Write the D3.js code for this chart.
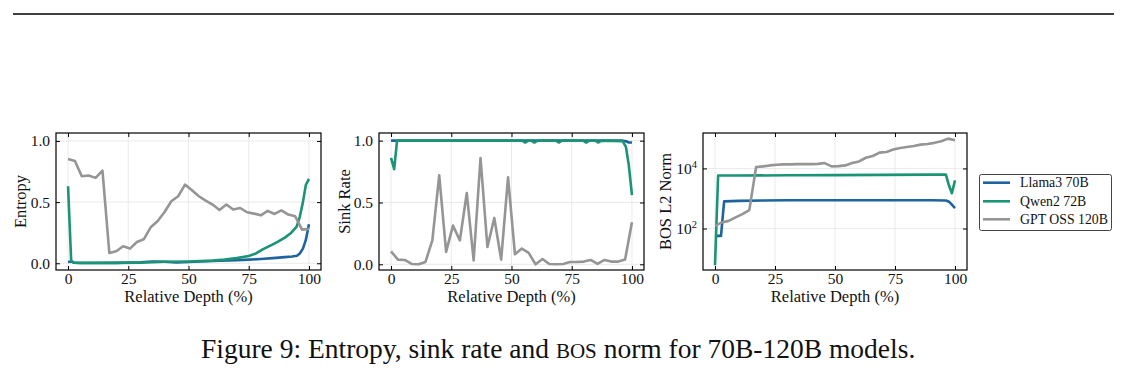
<!DOCTYPE html>
<html>
<head>
<meta charset="utf-8">
<script src="https://cdn.jsdelivr.net/npm/d3@7"></script>
<style>
  body { margin: 0; background: #fff; }
  svg { display: block; }
  text { font-family: "Liberation Serif", "Times New Roman", serif; fill: #111; }
</style>
</head>
<body>
<script>
// series names and colours
var seriesNames = ["Llama3 70B", "Qwen2 72B", "GPT OSS 120B"];
var seriesColors = ["#1d64a0", "#1b9475", "#959595"];

// GPT OSS 120B: 36 layers
var gptDepth = [0, 2.86, 5.71, 8.57, 11.43, 14.29, 17.14, 20, 22.86, 25.71, 28.57, 31.43,
  34.29, 37.14, 40, 42.86, 45.71, 48.57, 51.43, 54.29, 57.14, 60, 62.86, 65.71,
  68.57, 71.43, 74.29, 77.14, 80, 82.86, 85.71, 88.57, 91.43, 94.29, 97.14, 100];

// entropy
var llamaEntropyDepth = [0, 1.3, 2.5, 5, 10, 20, 30, 35, 40, 45, 50, 60, 70, 75, 80, 85, 90, 93, 95, 96.2, 97.5, 98.7, 100];
var llamaEntropy = [0.01, 0.014, 0.004, 0.002, 0.002, 0.003, 0.008, 0.015, 0.012, 0.006, 0.01, 0.018, 0.025, 0.03, 0.035, 0.042, 0.05, 0.055, 0.062, 0.08, 0.12, 0.19, 0.32];
var qwenEntropyDepth = [0, 1.3, 2.5, 5, 10, 20, 30, 40, 50, 60, 65, 70, 75, 78, 81, 84, 87, 90, 92.4, 94.9, 96.2, 97.5, 98.7, 100];
var qwenEntropy = [0.63, 0.02, 0.005, 0.003, 0.003, 0.003, 0.005, 0.012, 0.015, 0.022, 0.03, 0.042, 0.06, 0.08, 0.115, 0.145, 0.175, 0.21, 0.245, 0.3, 0.38, 0.5, 0.64, 0.69];
var gptEntropy = [0.853, 0.836, 0.711, 0.717, 0.698, 0.757, 0.084, 0.098, 0.139, 0.12, 0.174, 0.196,
  0.294, 0.343, 0.417, 0.507, 0.548, 0.643, 0.597, 0.548, 0.512, 0.48, 0.436, 0.48,
  0.439, 0.452, 0.417, 0.406, 0.392, 0.428, 0.403, 0.433, 0.398, 0.384, 0.275, 0.281];

// sink rate
var llamaSinkDepth = [0, 25, 50, 75, 96.2, 97.5, 98.7, 100];
var llamaSink = [1, 1, 1, 1, 1, 0.995, 0.985, 0.985];
var qwenSinkDepth = [0, 1.3, 2.5, 30, 54.4, 55.7, 57, 58.2, 59.5, 60.8, 68.4, 69.6, 70.9, 79.7, 81, 82.3, 84.8, 86.1, 87.3, 96.2, 97.5, 98.7, 100];
var qwenSink = [0.86, 0.77, 1, 1, 1, 0.985, 1, 1, 0.985, 1, 1, 0.985, 1, 1, 0.985, 1, 1, 0.985, 1, 0.995, 0.95, 0.8, 0.56];
var gptSink = [0.105, 0.038, 0.035, 0.003, 0.0, 0.019, 0.194, 0.72, 0.10, 0.313, 0.194, 0.577,
  0.032, 0.86, 0.14, 0.375, 0.038, 0.703, 0.081, 0.127, 0.092, 0.0, 0.043, 0.003,
  0.0, 0.003, 0.019, 0.019, 0.022, 0.035, 0.003, 0.035, 0.022, 0.022, 0.038, 0.34];

// BOS L2 norm
var llamaBosDepth = [0, 1.3, 2.5, 3.8, 10, 20, 30, 50, 70, 90, 96.2, 97.5, 98.7, 100];
var llamaBos = [57, 57, 57, 800, 830, 860, 870, 870, 870, 870, 860, 780, 620, 480];
var qwenBosDepth = [0, 1.3, 10, 30, 50, 70, 90, 96.2, 97.5, 98.7, 100];
var qwenBos = [6, 5800, 5800, 5900, 6000, 6100, 6200, 6200, 2700, 1500, 4000];
var gptBos = [123, 160, 180, 235, 300, 410, 11100, 11700, 12600, 13300, 13600, 13600,
  13900, 13900, 13900, 14200, 15100, 11700, 11900, 12600, 15100, 17100, 22700, 25900,
  33500, 35400, 42400, 48000, 52000, 56000, 62000, 65000, 71000, 80000, 98000, 87000];

var xTicks = [0, 25, 50, 75, 100];

var FIG = {
  init: function() {
    this.svg = d3.select("body")
      .append("svg")
      .attr("width", 1129)
      .attr("height", 371);

    // rule at the top of the page
    this.svg.append("line")
      .attr("x1", 13).attr("x2", 1114)
      .attr("y1", 14).attr("y2", 14)
      .attr("stroke", "#000")
      .attr("stroke-width", 1.6);

    this.buildPanel({
      left: 56, right: 321, yLabel: "Entropy", yLabelX: 21,
      y: d3.scaleLinear().domain([-0.055, 1.065]),
      yTicks: [0, 0.5, 1],
      series: [
        [llamaEntropyDepth, llamaEntropy],
        [qwenEntropyDepth, qwenEntropy],
        [gptDepth, gptEntropy]
      ]
    });
    this.buildPanel({
      left: 379, right: 644, yLabel: "Sink Rate", yLabelX: 345,
      y: d3.scaleLinear().domain([-0.046, 1.062]),
      yTicks: [0, 0.5, 1],
      series: [
        [llamaSinkDepth, llamaSink],
        [qwenSinkDepth, qwenSink],
        [gptDepth, gptSink]
      ]
    });
    this.buildPanel({
      left: 703, right: 967, yLabel: "BOS L2 Norm", yLabelX: 666,
      y: d3.scaleLog().domain([4.17, 151000]),
      yTicks: [100, 10000],
      log: true,
      series: [
        [llamaBosDepth, llamaBos],
        [qwenBosDepth, qwenBos],
        [gptDepth, gptBos]
      ]
    });

    this.buildLegend();
    this.buildCaption();
  },

  buildPanel: function(p) {
    var top = 133;
    var bottom = 270;
    var svg = this.svg;

    var x = d3.scaleLinear().domain([-5, 105]).range([p.left, p.right]);
    var y = p.y.range([bottom, top]);

    var g = svg.append("g");

    // grid
    g.selectAll(".gx")
      .data(xTicks)
      .enter()
      .append("line")
      .attr("x1", function(d) { return x(d); })
      .attr("x2", function(d) { return x(d); })
      .attr("y1", top).attr("y2", bottom)
      .attr("stroke", "#e4e4e4")
      .attr("stroke-width", 0.8);
    g.selectAll(".gy")
      .data(p.yTicks)
      .enter()
      .append("line")
      .attr("x1", p.left).attr("x2", p.right)
      .attr("y1", function(d) { return y(d); })
      .attr("y2", function(d) { return y(d); })
      .attr("stroke", "#e4e4e4")
      .attr("stroke-width", 0.8);

    // lines
    var clipId = "clip" + p.left;
    svg.append("clipPath").attr("id", clipId)
      .append("rect")
      .attr("x", p.left).attr("y", top)
      .attr("width", p.right - p.left).attr("height", bottom - top);

    var line = d3.line()
      .x(function(d) { return x(d[0]); })
      .y(function(d) { return y(d[1]); });

    g.append("g")
      .attr("clip-path", "url(#" + clipId + ")")
      .selectAll("path")
      .data(p.series)
      .enter()
      .append("path")
      .attr("d", function(s) { return line(d3.zip(s[0], s[1])); })
      .attr("fill", "none")
      .attr("stroke", function(s, i) { return seriesColors[i]; })
      .attr("stroke-width", 2.6)
      .attr("stroke-linejoin", "round");

    // axes, ticks pointing inward on every side
    var fmt = p.log ? function() { return ""; } : d3.format(".1f");

    var bottomAxis = g.append("g")
      .attr("transform", "translate(0," + bottom + ")")
      .call(d3.axisBottom(x).tickValues(xTicks).tickSize(-4).tickPadding(3).tickFormat(d3.format("d")));
    var topAxis = g.append("g")
      .attr("transform", "translate(0," + top + ")")
      .call(d3.axisTop(x).tickValues(xTicks).tickSize(-4).tickFormat(""));
    var leftAxis = g.append("g")
      .attr("transform", "translate(" + p.left + ",0)")
      .call(d3.axisLeft(y).tickValues(p.yTicks).tickSize(-4).tickPadding(6).tickFormat(fmt));
    var rightAxis = g.append("g")
      .attr("transform", "translate(" + p.right + ",0)")
      .call(d3.axisRight(y).tickValues(p.yTicks).tickSize(-4).tickFormat(""));

    [bottomAxis, topAxis, leftAxis, rightAxis].forEach(function(a) {
      a.select(".domain").remove();
      a.selectAll(".tick line").attr("stroke", "#000").attr("stroke-width", 1);
      a.selectAll("text")
        .attr("font-family", "Liberation Serif, serif")
        .attr("font-size", 15.5)
        .attr("fill", "#111");
    });

    if (p.log) {
      leftAxis.selectAll(".tick text")
        .each(function(d) {
          var t = d3.select(this);
          t.text("");
          t.append("tspan").text("10");
          t.append("tspan")
            .attr("dy", -6)
            .attr("font-size", 10.5)
            .text(Math.round(Math.log10(d)));
        });
    }

    // frame
    g.append("rect")
      .attr("x", p.left).attr("y", top)
      .attr("width", p.right - p.left).attr("height", bottom - top)
      .attr("fill", "none")
      .attr("stroke", "#000")
      .attr("stroke-width", 1.2);

    // labels
    g.append("text")
      .text("Relative Depth (%)")
      .attr("x", (p.left + p.right) / 2)
      .attr("y", 302)
      .attr("font-size", 16.5)
      .attr("text-anchor", "middle");

    g.append("text")
      .text(p.yLabel)
      .attr("transform", "translate(" + (p.yLabelX + 5) + "," + (top + bottom) / 2 + ") rotate(-90)")
      .attr("font-size", 16.5)
      .attr("text-anchor", "middle");
  },

  buildLegend: function() {
    var g = this.svg.append("g");
    var rows = [182.7, 201.3, 219.3];

    g.append("rect")
      .attr("x", 979.5).attr("y", 174.5)
      .attr("width", 132).attr("height", 56)
      .attr("rx", 2)
      .attr("fill", "#fff")
      .attr("stroke", "#444")
      .attr("stroke-width", 1);

    g.selectAll("line")
      .data(seriesNames)
      .enter()
      .append("line")
      .attr("x1", 983).attr("x2", 1010)
      .attr("y1", function(d, i) { return rows[i]; })
      .attr("y2", function(d, i) { return rows[i]; })
      .attr("stroke", function(d, i) { return seriesColors[i]; })
      .attr("stroke-width", 2.6);

    g.selectAll("text")
      .data(seriesNames)
      .enter()
      .append("text")
      .text(function(d) { return d; })
      .attr("x", 1020)
      .attr("y", function(d, i) { return rows[i] + 4.5; })
      .attr("font-size", 13.8);
  },

  buildCaption: function() {
    var t = this.svg.append("text")
      .attr("x", 201)
      .attr("y", 358)
      .attr("font-size", 27.5);
    t.append("tspan").text("Figure 9: Entropy, sink rate and ");
    t.append("tspan").attr("font-size", 21).text("BOS");
    t.append("tspan").text(" norm for 70B-120B models.");
  }
};

FIG.init();
</script>
</body>
</html>
